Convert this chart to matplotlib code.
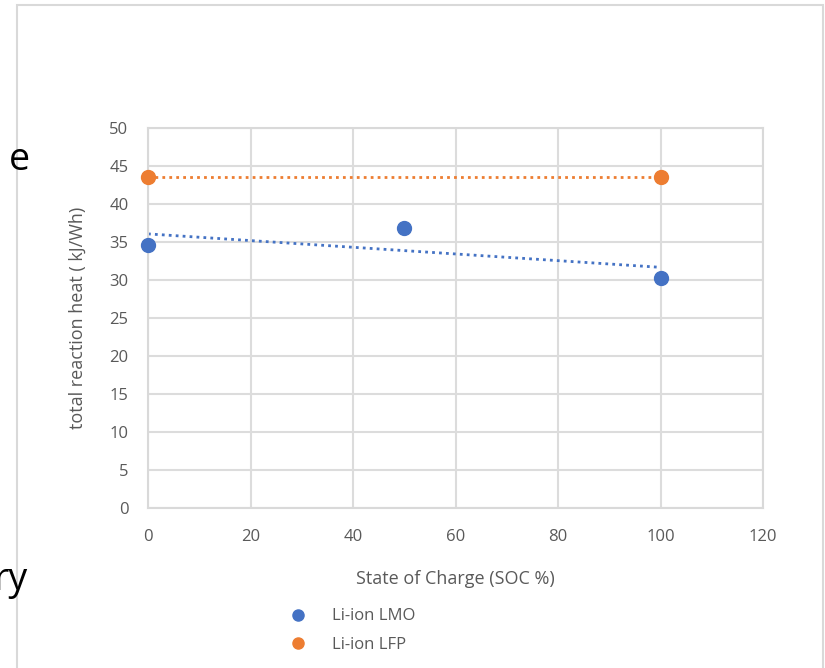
import numpy as np
import matplotlib
matplotlib.use('Agg')
import matplotlib.pyplot as plt
from matplotlib.patches import Rectangle

soc_lmo = [0, 50, 100]
heat_lmo = [34.6, 36.8, 30.2]
soc_lfp = [0, 100]
heat_lfp = [43.6, 43.6]
series_names = ['Li-ion LMO', 'Li-ion LFP']

blue = '#4472C4'
orange = '#ED7D31'
grey_txt = '#595959'

plt.rcParams['font.family'] = ['Open Sans', 'DejaVu Sans']

fig = plt.figure(figsize=(8.25, 6.68), dpi=100)
ax = fig.add_axes([148/825, 1-508/668, (763-148)/825, (508-128)/668])

# chart frame
fig.patches.append(Rectangle((17/825, -0.01), (823-17)/825, 0.01 + 1 - 5/668, transform=fig.transFigure,
                             fill=False, edgecolor='#d9d9d9', linewidth=1.5, zorder=0))

# trendlines
k, b = np.polyfit(soc_lmo, heat_lmo, 1)
xs = np.array([0, 100])
ax.plot(xs, k*xs + b, color=blue, linestyle=(0, (1, 1.5)), linewidth=2, zorder=2)
k2, b2 = np.polyfit(soc_lfp, heat_lfp, 1)
ax.plot(xs, k2*xs + b2, color=orange, linestyle=(0, (1, 1.5)), linewidth=2, zorder=2)

ax.plot(soc_lmo, heat_lmo, 'o', color=blue, markersize=10, label=series_names[0], zorder=3, clip_on=False)
ax.plot(soc_lfp, heat_lfp, 'o', color=orange, markersize=10, label=series_names[1], zorder=3, clip_on=False)

ax.set_xlim(0, 120)
ax.set_ylim(0, 50)
ax.set_xticks(range(0, 121, 20))
ax.set_yticks(range(0, 51, 5))
ax.grid(True, color='#dcdcdc', linewidth=1.5)
ax.set_axisbelow(True)
for s in ax.spines.values():
    s.set_color('#d9d9d9')
    s.set_linewidth(1.5)
ax.tick_params(length=0, labelsize=12, labelcolor=grey_txt)
ax.tick_params(axis='x', pad=15)
ax.tick_params(axis='y', pad=14)
ax.set_xlabel('State of Charge (SOC %)', fontsize=13, color=grey_txt, labelpad=18)
ax.set_ylabel('total reaction heat ( kJ/Wh)', fontsize=13, color=grey_txt, labelpad=16)

ax.legend(loc='upper left', bbox_to_anchor=((277-148)/615, -(600-508)/380), frameon=False, fontsize=12,
          labelcolor=grey_txt, handletextpad=1.3, labelspacing=0.75, markerscale=0.8,
          borderpad=0, handlelength=1.5)

# cut-off slide text on the left
fig.text(30/825, 1-170/668, 'e', fontsize=27, ha='right', va='baseline', color='black')
fig.text(28/825, 1-590/668, 'ry', fontsize=27, ha='right', va='baseline', color='black')

fig.savefig('out.png', dpi=100)
